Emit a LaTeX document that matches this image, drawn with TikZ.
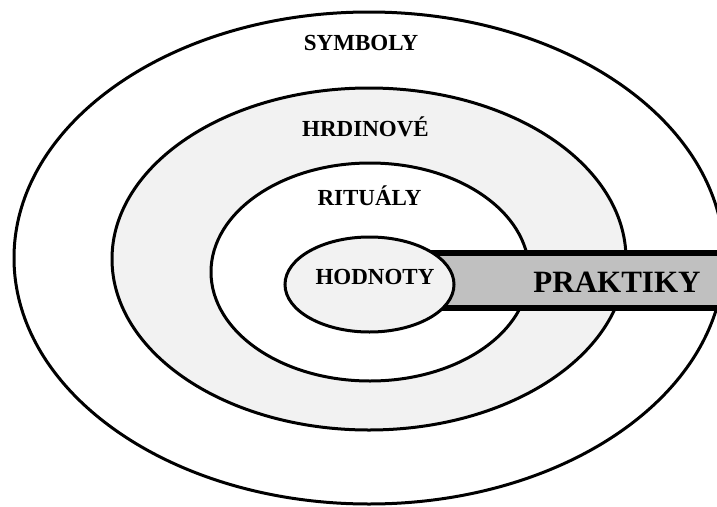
\documentclass[tikz,border=0pt]{standalone}
\usepackage{fontspec}
\setmainfont{Liberation Serif}
\usetikzlibrary{shapes.geometric}
\definecolor{ringGray}{HTML}{F2F2F2}
\definecolor{bandGray}{HTML}{C0C0C0}

\begin{document}
\begin{tikzpicture}[x=1pt, y=-1pt,
    ring/.style={ellipse, draw=black, line width=3pt, fill=#1, inner sep=0pt},
    band/.style={rectangle, draw=black, line width=6pt, fill=bandGray, inner sep=0pt},
    lbl/.style={anchor=base, inner sep=0pt,
                font=\fontsize{23}{23}\selectfont\bfseries},
  ]
    \useasboundingbox (0,0) rectangle (717,506);
    % layers from the outside in
    \node[ring=white, minimum width=710pt, minimum height=492pt] (symboly) at (369,258) {};
    \node[ring=ringGray, minimum width=514pt, minimum height=342pt] (hrdinove) at (369,259) {};
    \node[ring=white, minimum width=318pt, minimum height=218pt] (ritualy) at (370,272) {};
    \node[band, minimum width=350pt, minimum height=55pt] (praktiky) at (545,280.5) {};
    \node[ring=ringGray, minimum width=169pt, minimum height=95pt] (hodnoty) at (369.5,284.5) {};
    % labels
    \node[lbl] (tsymboly) at (361,50) {SYMBOLY};
    \node[lbl] (thrdinove) at (365.5,136) {HRDINOVÉ};
    \node[lbl] (tritualy) at (369.5,205) {RITUÁLY};
    \node[lbl] (thodnoty) at (375,284) {HODNOTY};
    \node[lbl, font=\fontsize{31}{31}\selectfont\bfseries] (tpraktiky) at (617,292) {PRAKTIKY};
\end{tikzpicture}
\end{document}
